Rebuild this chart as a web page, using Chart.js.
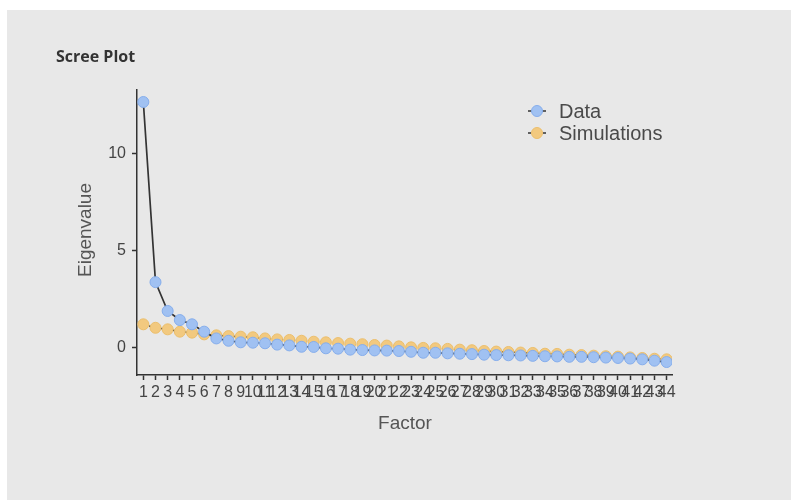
<!DOCTYPE html>
<html>
<head>
<meta charset="utf-8">
<script src="https://cdn.jsdelivr.net/npm/chart.js@4/dist/chart.umd.min.js"></script>
<style>
html,body{margin:0;padding:0;background:#ffffff;}
#wrap{position:absolute;left:0;top:0;width:791px;height:500px;}
</style>
</head>
<body>
<div id="wrap"><canvas id="c" width="791" height="500"></canvas></div>
<script>
const factors = [1,2,3,4,5,6,7,8,9,10,11,12,13,14,15,16,17,18,19,20,21,22,23,24,25,26,27,28,29,30,31,32,33,34,35,36,37,38,39,40,41,42,43,44];
const dataEigen = [12.68,3.37,1.88,1.41,1.19,0.81,0.46,0.34,0.26,0.24,0.21,0.14,0.10,0.03,0.02,-0.05,-0.07,-0.12,-0.14,-0.16,-0.17,-0.19,-0.23,-0.28,-0.28,-0.31,-0.33,-0.35,-0.38,-0.40,-0.41,-0.42,-0.44,-0.46,-0.47,-0.49,-0.49,-0.51,-0.53,-0.55,-0.58,-0.62,-0.69,-0.76];
const simEigen = [1.19,1.01,0.93,0.81,0.76,0.67,0.62,0.58,0.55,0.52,0.46,0.41,0.38,0.34,0.29,0.26,0.22,0.19,0.16,0.12,0.09,0.05,0.00,-0.03,-0.05,-0.08,-0.12,-0.15,-0.19,-0.22,-0.24,-0.27,-0.29,-0.33,-0.34,-0.38,-0.40,-0.43,-0.46,-0.48,-0.52,-0.55,-0.59,-0.62];
const yTicks = [0,5,10];
const seriesNames = ['Data','Simulations'];
const chartTitle = 'Scree Plot';
const xTitle = 'Factor';
const yTitle = 'Eigenvalue';

const blueFill = '#a0c1f2', blueEdge = '#86aeec';
const orangeFill = '#f2c97f', orangeEdge = '#ecbf6c';
const lineColor = '#333333';

const decor = {
  id: 'decor',
  beforeDraw(chart) {
    const ctx = chart.ctx;
    ctx.save();
    ctx.fillStyle = '#e8e8e8';
    ctx.fillRect(7, 10, 791 - 7, 500 - 10);
    ctx.restore();
  },
  afterDraw(chart) {
    const ctx = chart.ctx;
    ctx.save();
    // title
    ctx.fillStyle = '#333333';
    ctx.font = 'bold 16px "Open Sans", sans-serif';
    ctx.textBaseline = 'middle';
    ctx.textAlign = 'left';
    ctx.fillText(chartTitle, 56, 57);
    // axis titles
    ctx.fillStyle = '#555555';
    ctx.font = '19px "Liberation Sans", Arial, sans-serif';
    ctx.textAlign = 'center';
    ctx.fillText(xTitle, 405, 424);
    ctx.save();
    ctx.translate(86, 230);
    ctx.rotate(-Math.PI / 2);
    ctx.fillText(yTitle, 0, 0);
    ctx.restore();
    // legend
    const items = chart.data.datasets;
    const ys = [111, 133];
    items.forEach((ds, i) => {
      const y = ys[i];
      ctx.strokeStyle = lineColor;
      ctx.lineWidth = 1.5;
      ctx.setLineDash(i === 0 ? [] : [3, 2]);
      ctx.beginPath();
      ctx.moveTo(528, y);
      ctx.lineTo(546, y);
      ctx.stroke();
      ctx.setLineDash([]);
      ctx.beginPath();
      ctx.arc(537, y, 5.5, 0, Math.PI * 2);
      ctx.fillStyle = ds.pointBackgroundColor;
      ctx.fill();
      ctx.strokeStyle = ds.pointBorderColor;
      ctx.lineWidth = 1;
      ctx.stroke();
      ctx.fillStyle = '#4a4a4a';
      ctx.textAlign = 'left';
      ctx.font = '20px "Liberation Sans", Arial, sans-serif';
      ctx.fillText(ds.label, 559, y + 1);
    });
    ctx.restore();
  }
};

new Chart(document.getElementById('c'), {
  type: 'line',
  data: {
    datasets: [
      {
        label: seriesNames[0],
        data: factors.map((f, i) => ({x: f, y: dataEigen[i]})),
        borderColor: lineColor,
        borderWidth: 1.7,
        pointRadius: 5.5,
        pointBackgroundColor: blueFill,
        pointBorderColor: blueEdge,
        pointBorderWidth: 1,
        tension: 0,
        order: 0
      },
      {
        label: seriesNames[1],
        data: factors.map((f, i) => ({x: f, y: simEigen[i]})),
        borderColor: lineColor,
        borderWidth: 1.5,
        borderDash: [3, 3],
        pointRadius: 5.5,
        pointBackgroundColor: orangeFill,
        pointBorderColor: orangeEdge,
        pointBorderWidth: 1,
        tension: 0,
        order: 1
      }
    ]
  },
  options: {
    responsive: false,
    animation: false,
    layout: {padding: {left: 0, top: 90, right: 119, bottom: 0}},
    plugins: {legend: {display: false}, title: {display: false}, tooltip: {enabled: false}},
    scales: {
      x: {
        type: 'linear',
        min: 0.48,
        max: 44.44,
        afterBuildTicks: s => { s.ticks = factors.map(v => ({value: v})); },
        afterFit: s => { s.height = 125; },
        ticks: {autoSkip: false, maxRotation: 0, minRotation: 0, padding: 3,
                color: '#444444', font: {size: 16, family: '"Liberation Sans", Arial, sans-serif'},
                callback: v => String(v)},
        grid: {drawOnChartArea: false, drawTicks: true, tickLength: 5, color: '#333333', tickWidth: 1.5},
        border: {display: true, color: '#333333', width: 1.5}
      },
      y: {
        type: 'linear',
        min: -1.43,
        max: 13.3,
        afterBuildTicks: s => { s.ticks = yTicks.map(v => ({value: v})); },
        afterFit: s => { s.width = 137; },
        ticks: {padding: 6, color: '#444444', font: {size: 16, family: '"Liberation Sans", Arial, sans-serif'},
                callback: v => String(v)},
        grid: {drawOnChartArea: false, drawTicks: true, tickLength: 5, color: '#333333', tickWidth: 1.5},
        border: {display: true, color: '#333333', width: 1.5}
      }
    }
  },
  plugins: [decor]
});
</script>
</body>
</html>
